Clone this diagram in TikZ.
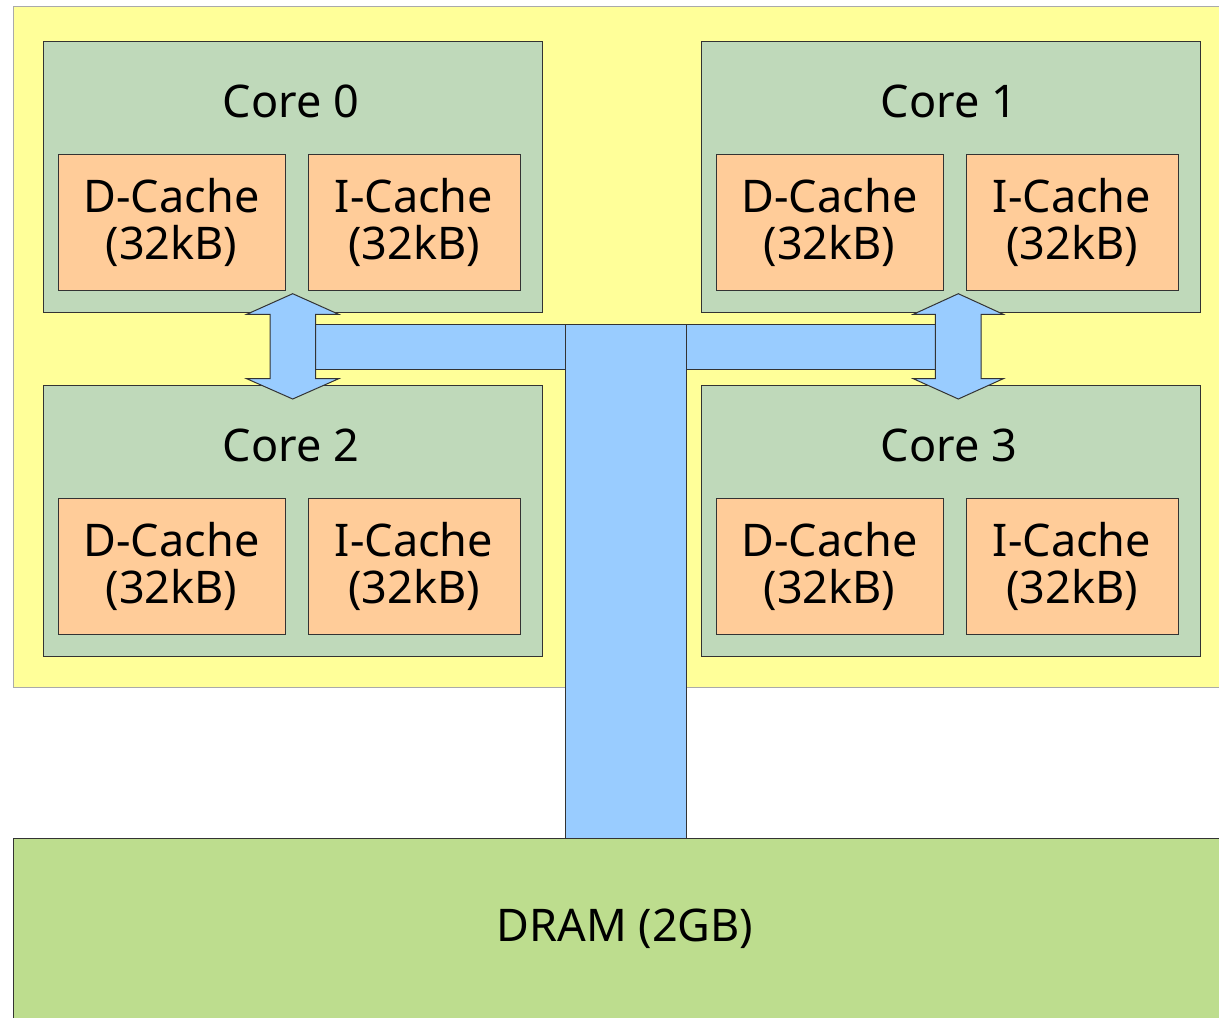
\documentclass[tikz,border=0pt]{standalone}
\usepackage{fontspec}
\setmainfont{Noto Sans}
\definecolor{chipyellow}{HTML}{FFFF99}
\definecolor{coregreen}{HTML}{BFD9BA}
\definecolor{cacheorange}{HTML}{FFCC99}
\definecolor{busblue}{HTML}{99CCFF}
\definecolor{dramgreen}{HTML}{BDDD8E}
\definecolor{edgegray}{HTML}{333333}
\definecolor{chipedge}{HTML}{AAAAAA}

\begin{document}
\begin{tikzpicture}[x=1pt,y=-1pt,
  box/.style={draw=edgegray, line width=1pt, inner sep=0pt, outer sep=0pt, anchor=north west},
  chipbox/.style={box, draw=chipedge, fill=chipyellow},
  corebox/.style={box, fill=coregreen, minimum width=499pt, minimum height=271pt},
  cachebox/.style={box, fill=cacheorange, minimum height=136pt, align=center,
    font=\fontsize{45}{47}\selectfont},
  title/.style={font=\fontsize{45}{47}\selectfont, inner sep=0pt},
  busbar/.style={box, fill=busblue},
  linkarrow/.style={draw=edgegray, line width=1pt, fill=busblue, line join=miter},
  dram/.style={box, fill=dramgreen}
]
% canvas
\clip (0,0) rectangle (1219,1018);
\fill[white] (0,0) rectangle (1219,1018);

% chip package
\node[chipbox, minimum width=1230pt, minimum height=681pt] (chip) at (13,6) {};

% four cores, each with a data and an instruction cache
\foreach \n/\dx/\dy in {0/0/0, 1/658/0, 2/0/344, 3/658/344} {
  \node[corebox] (core\n) at (43+\dx,41+\dy) {};
  \node[title] (core\n title) at (291+\dx,101.5+\dy) {Core \n};
  \node[cachebox, minimum width=227pt] (core\n d) at (58+\dx,154+\dy) {D-Cache\\(32kB)};
  \node[cachebox, minimum width=212pt] (core\n i) at (308+\dx,154+\dy) {I-Cache\\(32kB)};
}

% shared bus
\node[busbar, minimum width=250pt, minimum height=45pt] (busleft) at (315.5,324) {};
\node[busbar, minimum width=249pt, minimum height=45pt] (busright) at (686,324) {};
\node[busbar, minimum width=121pt, minimum height=514pt] (busmain) at (565,324) {};

% links between upper and lower cores
\draw[linkarrow] (292.7,293.7) -- (338.7,314.3) -- (315.7,314.3) -- (315.7,378.7)
  -- (338.7,378.7) -- (292.7,399) -- (246.7,378.7) -- (270,378.7) -- (270,314.3)
  -- (246.7,314.3) -- cycle;
\draw[linkarrow] (958.3,293.7) -- (1003.3,314.3) -- (981,314.3) -- (981,378.7)
  -- (1003.3,378.7) -- (958.3,399) -- (913.3,378.7) -- (935.3,378.7) -- (935.3,314.3)
  -- (913.3,314.3) -- cycle;

% main memory
\node[dram, minimum width=1240pt, minimum height=200pt] (dram) at (13,838) {};
\node[title] (dramlabel) at (625,929) {DRAM (2GB)};
\end{tikzpicture}
\end{document}
